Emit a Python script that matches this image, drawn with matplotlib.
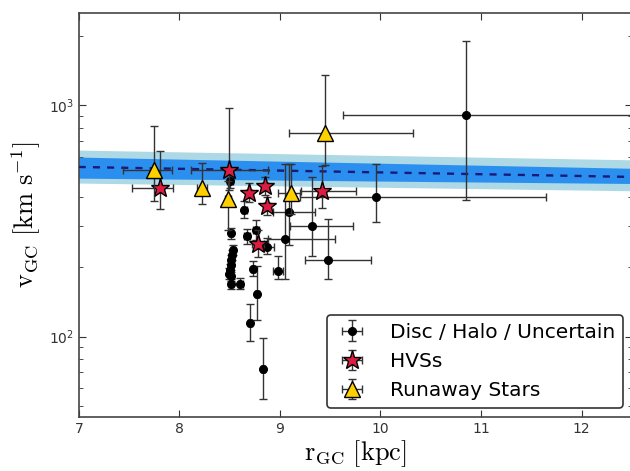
import numpy as np
import matplotlib
matplotlib.use('Agg')
from matplotlib import pyplot as plt

plt.rcParams['mathtext.fontset'] = 'cm'
plt.rcParams['font.family'] = 'DejaVu Sans'

# Disc / Halo / Uncertain stars: r_GC [kpc] with bounds, v_GC [km/s] with bounds
disc_r = np.array([10.85, 9.955, 9.09, 9.315, 9.05, 9.48, 8.98, 8.50, 8.645, 8.76, 8.67, 8.87,
                   8.73, 8.77, 8.70, 8.83, 8.605, 8.51, 8.53, 8.52, 8.515, 8.51, 8.505, 8.495, 8.51, 8.51])
disc_r_lo = np.array([9.63, 9.20, 8.93, 9.10, 8.88, 9.25, 8.93, 8.47, 8.62, 8.73, 8.64, 8.82,
                      8.71, 8.75, 8.68, 8.81, 8.58, 8.49, 8.51, 8.50, 8.50, 8.49, 8.49, 8.48, 8.49, 8.49])
disc_r_hi = np.array([13.0, 11.65, 9.35, 9.73, 9.55, 9.91, 9.03, 8.53, 8.67, 8.79, 8.70, 8.94,
                      8.75, 8.79, 8.72, 8.85, 8.63, 8.53, 8.55, 8.54, 8.53, 8.53, 8.52, 8.51, 8.53, 8.53])
disc_v = np.array([912, 400, 345, 301, 263, 215, 192, 470, 353, 289, 271, 245,
                   196, 153, 114, 72.6, 169, 280, 237, 225, 215, 204, 195, 187, 182, 168])
disc_v_lo = np.array([389, 314, 250, 223, 178, 178, 178, 440, 325, 262, 252, 228,
                      182, 118, 96, 54, 160, 265, 226, 214, 205, 195, 186, 178, 174, 160])
disc_v_hi = np.array([1892, 557, 560, 490, 557, 322, 224, 500, 385, 320, 292, 268,
                      212, 201, 139, 99, 179, 296, 249, 237, 226, 214, 205, 197, 191, 177])

# HVSs
hvs_r = np.array([7.81, 8.49, 8.69, 8.85, 8.87, 8.78, 9.415])
hvs_r_lo = np.array([7.53, 8.12, 8.66, 8.82, 8.84, 8.72, 9.21])
hvs_r_hi = np.array([7.94, 8.88, 8.72, 8.88, 8.90, 8.84, 9.76])
hvs_v = np.array([441, 525, 419, 448, 367, 251, 426])
hvs_v_lo = np.array([357, 430, 380, 410, 335, 220, 361])
hvs_v_hi = np.array([634, 973, 460, 490, 400, 290, 546])

# Runaway stars
run_r = np.array([7.75, 8.23, 8.48, 9.11, 9.448])
run_r_lo = np.array([7.44, 8.18, 8.45, 8.98, 9.09])
run_r_hi = np.array([7.93, 8.28, 8.51, 9.20, 10.32])
run_v = np.array([525, 441, 394, 416, 760])
run_v_lo = np.array([386, 374, 290, 340, 550])
run_v_hi = np.array([812, 561, 470, 557, 1346])

# escape velocity model band
band_r = np.array([7.0, 12.5])
band_mid = np.array([541, 490])
band_dark_lo = np.array([484, 459])
band_dark_hi = np.array([597, 534])
band_light_lo = np.array([461, 427])
band_light_hi = np.array([640, 581])


def _err(c, lo, hi):
    return np.vstack([c - lo, hi - c])


fig, ax = plt.subplots(figsize=(6.3, 4.71), dpi=100)
fig.subplots_adjust(left=0.125, right=1.003, bottom=0.115, top=0.972)

ax.fill_between(band_r, band_light_lo, band_light_hi, color='#add8e6', lw=0, zorder=1)
ax.fill_between(band_r, band_dark_lo, band_dark_hi, color='#2b8ff0', lw=0, zorder=2)
ax.plot(band_r, band_mid, '--', color='#1a1a78', lw=1.7, dashes=(3, 3), zorder=3)

err_kw = dict(ecolor='#333333', elinewidth=1, capsize=3, capthick=1)
ax.errorbar(disc_r, disc_v, xerr=_err(disc_r, disc_r_lo, disc_r_hi), yerr=_err(disc_v, disc_v_lo, disc_v_hi),
            fmt='o', color='k', ms=5.5, zorder=4, label='Disc / Halo / Uncertain', **err_kw)
ax.errorbar(hvs_r, hvs_v, xerr=_err(hvs_r, hvs_r_lo, hvs_r_hi), yerr=_err(hvs_v, hvs_v_lo, hvs_v_hi),
            fmt='*', mfc='#dc1c40', mec='k', mew=1, ms=14, zorder=5, label='HVSs', **err_kw)
ax.errorbar(run_r, run_v, xerr=_err(run_r, run_r_lo, run_r_hi), yerr=_err(run_v, run_v_lo, run_v_hi),
            fmt='^', mfc='#ffd000', mec='k', mew=1, ms=11, zorder=6, label='Runaway Stars', **err_kw)

ax.set_yscale('log')
ax.set_xlim(7, 12.5)
ax.set_ylim(45, 2500)
ax.set_xticks([7, 8, 9, 10, 11, 12])

ax.set_xlabel(r'$\mathrm{r_{GC}\ [kpc]}$', fontsize=19, labelpad=2)
ax.set_ylabel(r'$\mathrm{v_{GC}\ [km\ s^{-1}]}$', fontsize=19, labelpad=4)

ax.tick_params(which='both', direction='in', top=True, right=True, labelsize=10, colors='#333333')
ax.tick_params(which='major', length=5)
ax.tick_params(which='minor', length=3)
for spine in ax.spines.values():
    spine.set_color('#444444')
    spine.set_linewidth(1.2)

leg = ax.legend(loc='lower right', fontsize=14.5, numpoints=1, fancybox=True, framealpha=1,
                edgecolor='#333333', handlelength=1.7, handletextpad=1.0, borderaxespad=0.45,
                labelspacing=0.5)
leg.get_frame().set_linewidth(1.2)

fig.savefig('out.png', dpi=100)
